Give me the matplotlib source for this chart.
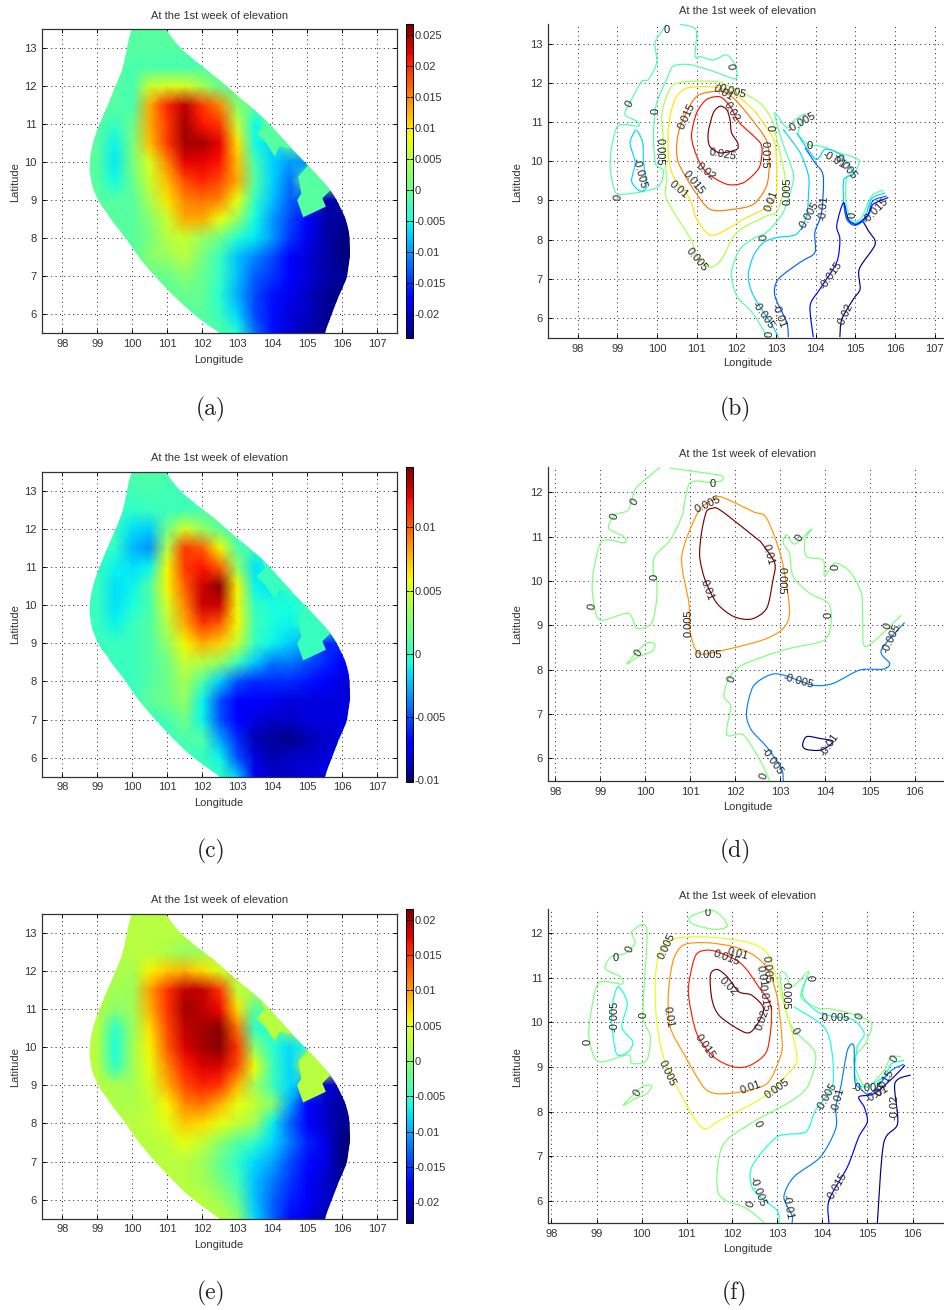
import numpy as np
import matplotlib
matplotlib.use("Agg")
import matplotlib.pyplot as plt
from matplotlib.patches import Polygon, PathPatch
from matplotlib.path import Path
from matplotlib.colors import Normalize

plt.rcParams['font.family'] = ['Liberation Sans', 'DejaVu Sans']
W, H = 945, 1310
TITLE = "At the 1st week of elevation"

LONS = [98.5, 99, 99.5, 100, 100.5, 101, 101.5, 102, 102.5, 103, 103.5, 104, 104.5, 105, 105.5, 106, 106.5]
LATS = [13.5, 13, 12.5, 12, 11.5, 11, 10.5, 10, 9.5, 9, 8.5, 8, 7.5, 7, 6.5, 6, 5.5]

# domain outline (lon, lat)
DOMAIN_EAST = [(100.95, 13.5), (101.26, 13.13), (101.64, 12.78), (102.31, 12.3), (102.98, 11.77), (103.64, 11.25), (104.59, 10.33),
               (105.64, 9.27), (106.02, 8.66), (106.19, 8.13), (106.21, 7.52), (106.12, 6.99), (105.83, 6.29), (105.5, 5.5)]
DOMAIN_WEST = [(102.5, 5.5), (101.55, 6.16), (100.41, 7.25), (99.84, 7.96), (99.27, 8.66), (98.93, 9.18), (98.79, 9.71), (98.81, 10.24),
               (98.98, 10.81), (99.27, 11.46), (99.55, 12.08), (99.74, 12.52), (99.88, 13.13), (99.98, 13.5)]
ZONE_SOUTH = [(105.07, 9.97), (104.74, 9.62), (104.83, 9.18), (104.71, 9.0), (104.88, 8.55), (105.53, 8.83),
              (105.43, 9.05), (105.7, 9.3), (105.3, 9.9)]
ZONE_NORTH = [(103.64, 11.3), (103.79, 10.98), (103.55, 10.76), (103.83, 10.5), (104.07, 10.15), (104.21, 10.41),
              (104.7, 10.32), (104.4, 10.8)]

# values in units of 0.001, rows from north to south
FIELD_A = [
 [-1]*17,
 [-1]*17,
 [-1, -1, -1, -2, -1.5, -2, -2, -1.5, -1, -1, -1, -1, -1, -1, -1, -1, -1],
 [-1, -1, -1, -2, 6, 7, 7, 4, 0, -1, -1, -1, -1, -1, -1, -1, -1],
 [-1, -1, -1, -2, 13, 20, 24, 19, 15, 2, -1, -1, -1, -1, -1, -1, -1],
 [-1, -1, -3, 0, 13, 19, 25, 21, 19, 6, -5, -1, -1, -1, -1, -1, -1],
 [-1, -1, -5.5, 1, 12, 19, 25, 25, 22, 10, -5, -7, -1, -1, -1, -1, -1],
 [-1, -1, -6, 1, 7, 15, 22, 22, 21, 12, -2, -7, -10, -10, -1, -1, -1],
 [-1, -1, -5, 0, 6, 12, 18, 20, 18, 13, -1, -7, -12, -1, -1, -1, -1],
 [-1, -1, -1, -1, 4, 10, 15, 16, 15, 8, -3, -8, -13, -14, -22, -22, -22],
 [-1, -1, -1, -1, 2, 6, 13, 13, 8, 3, -5, -10, -14, -18, -22, -23, -23],
 [-1, -1, -1, -1, 1, 5, 6, 3, .5, -4, -6, -10, -15, -19, -22, -24, -24],
 [-1, -1, -1, -1, 2, 3, 5, 1, -3, -8, -11, -14, -18, -20, -22, -24, -24],
 [-1, -1, -1, -1, 0, 0, 2, 0, -3, -8, -13, -15, -18, -20, -22, -23, -24],
 [-1, -1, -1, -1, -1, 0, 0, 0, -4, -9, -14, -17, -19, -21, -23, -24, -24],
 [-1, -1, -1, -1, -1, -1, -1, -1, -3, -7, -14, -17, -20, -21, -23, -24, -24],
 [-1, -1, -1, -1, -1, -1, -1, -1, -1, -4, -12, -17, -20, -22, -23, -24, -24],
]
FIELD_C = [
 [.3, .3, .3, 1, 1, 1, .3, .3, .3, .3, .3, .3, .3, .3, .3, .3, .3],
 [.3, .3, .3, .5, .8, .5, .3, .3, .3, .3, .3, .3, .3, .3, .3, .3, .3],
 [.3, .3, .3, 0, .3, .4, .5, .8, .8, .3, .3, .3, .3, .3, .3, .3, .3],
 [.3, .3, .3, -1.5, -2, 2, 5, 3, 1.5, .3, .3, .3, .3, .3, .3, .3, .3],
 [.3, .3, 0, -2.5, -3.5, 4, 11, 10, 6, 1, .3, .3, .3, .3, .3, .3, .3],
 [.3, .3, -1, -1.5, -1, 6, 11, 12, 10, 3, -1.5, -.5, .3, .3, .3, .3, .3],
 [.3, .3, -1.5, -1, 1, 6, 10, 13, 14.5, 6, -1, -1.5, .1, .3, .3, .3, .3],
 [.3, .3, -1.5, -.5, .8, 5, 9, 13, 13, 6, 0, -.5, -.6, .3, .3, .3, .3],
 [.3, .3, -1, .2, 1, 4, 8, 11, 10, 6, .5, -.6, -1, .3, .3, .3, .3],
 [.3, .3, .3, .3, 1, 3, 6, 8, 7, 4.5, .2, -1, -2, -3, -6, -6, -6],
 [.3, .3, .3, .3, 1, 2, 4.5, 4, 3, .5, -2, -4, -4, -5, -6, -7, -7],
 [.3, .3, .3, .3, 1, 2, 3.5, 1, -2, -5, -6, -6, -6, -6.5, -7, -8, -8],
 [.3, .3, .3, .3, 1.5, 2, 3, -1, -5, -7, -7, -7.5, -8, -8, -8, -8, -8],
 [.3, .3, .3, .3, .3, .7, 2, -1, -5, -7, -8, -8.5, -8.5, -8, -8, -8, -8],
 [.3, .3, .3, .3, .3, .3, 1, 1, -3, -6, -9, -9.5, -10, -9, -8.5, -8, -8],
 [.3, .3, .3, .3, .3, .3, .3, .3, -1, -5, -8, -9, -8.5, -8.5, -8, -8, -8],
 [.3, .3, .3, .3, .3, .3, .3, .3, .3, -2, -7.5, -8.5, -8.5, -8, -8, -8, -8],
]
FIELD_E = [
 [2.5]*17,
 [2.5]*17,
 [2.5, 2.5, 2.5, 2.5, 2.5, 2, .5, 1, 2, 2.5, 2.5, 2.5, 2.5, 2.5, 2.5, 2.5, 2.5],
 [2.5, 2.5, 2, 1.5, 6, 8, 9, 7, 4, 2, 2.5, 2.5, 2.5, 2.5, 2.5, 2.5, 2.5],
 [2.5, 2.5, 1.5, 1, 10, 15, 19, 19, 15, 3, 2, 2.5, 2.5, 2.5, 2.5, 2.5, 2.5],
 [2.5, 2.5, 0, 1, 9, 15, 20, 19, 17, 7, -3, -1, 2.5, 2.5, 2.5, 2.5, 2.5],
 [2.5, 2.5, -5, .5, 7, 14, 19, 20, 21, 12, -5, -5, 1, 2.5, 2.5, 2.5, 2.5],
 [2.5, 2.5, -6, 1, 6, 13, 18, 20, 21, 15, 0, -5, -8, -5, 2.5, 2.5, 2.5],
 [2.5, 2.5, -5, 1, 5, 11, 16, 18, 18, 14, 5, -4, -8, 2, 2.5, 2.5, 2.5],
 [2.5, 2.5, 2, 1.5, 4, 9, 14, 16, 15, 9, 1, -4, -8, -10, -20, -20, -20],
 [2.5, 2.5, 2, 2, 3, 6, 11, 12, 9, 5, 3, 0, -10, -18, -20, -22, -22],
 [2.5, 2.5, 2.5, 2.5, 3, 4.5, 8, 7, 5, 3, 1, -7, -13, -18, -20, -22, -22],
 [2.5, 2.5, 2.5, 2.5, 2.5, 3, 5, 3, 0, -3, -5, -8, -12, -16, -19, -23, -23],
 [2.5, 2.5, 2.5, 2.5, 2.5, 2.5, 2.5, 1, -2, -5, -8, -10, -14, -17, -19, -23, -23],
 [2.5, 2.5, 2.5, 2.5, 2.5, 2.5, 2.5, 1.5, -1, -4, -9, -12, -15, -18, -20, -22, -22],
 [2.5, 2.5, 2.5, 2.5, 2.5, 2.5, 2.5, 2.5, 1, -2, -9, -13, -16, -18, -20, -21, -21],
 [2.5, 2.5, 2.5, 2.5, 2.5, 2.5, 2.5, 2.5, 2.5, .5, -8, -13, -17, -19, -21, -21, -21],
]
CBAR_RANGE_A = (-24.0, 26.7)
CBAR_RANGE_C = (-10.1, 14.74)
CBAR_RANGE_E = (-23.0, 21.5)
CBAR_TICKS_A = [-.02, -.015, -.01, -.005, 0, .005, .01, .015, .02, .025]
CBAR_TICKS_C = [-.01, -.005, 0, .005, .01]
CBAR_TICKS_E = [-.02, -.015, -.01, -.005, 0, .005, .01, .015, .02]
ZONE_VALUE_A, ZONE_VALUE_C, ZONE_VALUE_E = -1, .3, 2.5

# ---- contour lines, panel (b)
B_Z1 = [(100.24, 13.49), (100.06, 13.22), (99.95, 13.01), (99.99, 12.5), (99.78, 12.08), (99.61, 12.03), (99.36, 11.57),
        (99.19, 11.19), (99.49, 11.02), (99.53, 10.89), (99.03, 10.91), (98.86, 10.38), (98.82, 9.87), (98.9, 9.36),
        (99.07, 9.15), (99.99, 9.32), (100.16, 9.75), (99.97, 9.92), (99.92, 10.38), (99.92, 10.89), (99.99, 11.48),
        (100.24, 12.08), (100.41, 12.42), (100.83, 12.46), (101.42, 12.29), (101.98, 12.1), (101.98, 12.42),
        (101.76, 12.71), (101.42, 12.58), (101.08, 12.67), (100.96, 12.67), (100.98, 13.35), (100.58, 13.49)]
B_Z2 = [(102.78, 5.51), (102.43, 6.1), (102.01, 6.57), (101.88, 7.16), (102.09, 7.75), (102.47, 8.05), (102.76, 8.18),
        (103.18, 8.69), (103.44, 9.53), (103.35, 9.96), (103.14, 10.55), (102.97, 11.23), (103.27, 10.85), (103.44, 11.02),
        (103.73, 11.19), (103.56, 10.72), (103.82, 10.42), (104.15, 10.38), (104.53, 10.23), (105.08, 10.03), (104.95, 9.66),
        (104.78, 9.58), (104.76, 9.03), (104.82, 8.69), (104.95, 8.47), (105.16, 8.56), (105.41, 9.11), (105.71, 9.26)]
B_P005 = [(101.5, 12.03), (100.5, 11.99), (100.24, 11.65), (100.12, 11.14), (100.16, 10.55), (100.2, 10.04), (100.24, 9.53),
          (100.24, 9.03), (100.75, 8.18), (100.87, 7.97), (101.04, 7.54), (101.34, 7.29), (101.63, 7.5), (102.01, 8.18),
          (102.76, 8.6), (103.02, 8.69), (103.23, 9.36), (103.18, 9.87), (103.02, 10.55), (102.93, 10.97), (102.68, 11.4),
          (102.34, 11.65), (101.98, 11.82), (101.5, 12.03)]
B_P010 = [(101.42, 11.89), (100.75, 11.86), (100.45, 11.57), (100.29, 10.89), (100.29, 10.13), (100.41, 9.62), (100.83, 9.03),
          (101.0, 8.52), (101.34, 8.11), (101.76, 8.26), (102.18, 8.52), (102.76, 8.81), (103.0, 9.11), (103.02, 9.79),
          (102.97, 10.47), (102.76, 10.85), (102.43, 11.31), (101.92, 11.74), (101.42, 11.89)]
B_P015 = [(101.59, 11.78), (101.0, 11.65), (100.62, 10.97), (100.5, 10.47), (100.54, 9.96), (100.92, 9.28), (101.34, 8.77),
          (101.92, 8.77), (102.43, 8.9), (102.76, 9.36), (102.83, 9.96), (102.75, 10.55), (102.26, 11.23), (101.92, 11.61),
          (101.59, 11.78)]
B_P020 = [(101.59, 11.64), (101.25, 11.57), (101.0, 11.23), (100.87, 10.64), (101.0, 10.13), (101.25, 9.71), (101.76, 9.41),
          (102.18, 9.45), (102.55, 9.79), (102.64, 10.13), (102.6, 10.47), (102.09, 10.97), (101.84, 11.4), (101.59, 11.64)]
B_P025 = [(101.59, 11.4), (101.42, 11.23), (101.29, 10.72), (101.33, 10.38), (101.59, 10.21), (102.01, 10.3), (102.03, 10.47),
          (101.88, 10.72), (101.84, 11.06), (101.76, 11.31), (101.59, 11.4)]
B_M005_W = [(99.47, 10.81), (99.32, 10.47), (99.45, 9.96), (99.36, 9.49), (99.57, 9.24), (99.74, 9.36), (99.66, 9.96),
            (99.64, 10.47), (99.5, 10.79)]
B_M005_1 = [(103.06, 5.51), (102.93, 5.76), (102.43, 6.57), (102.3, 7.08), (102.43, 7.58), (102.68, 7.92), (103.02, 8.05),
            (103.52, 8.14), (103.77, 8.6), (103.82, 9.19), (103.82, 9.62), (103.61, 10.21), (103.18, 10.81)]
B_M005_2 = [(103.52, 10.72), (103.77, 10.34), (104.03, 10.04), (104.24, 10.3), (104.61, 10.17), (104.95, 9.7), (104.71, 9.53),
            (104.71, 8.94), (104.78, 8.56), (104.99, 8.42), (105.24, 8.56), (105.41, 9.04), (105.75, 9.19)]
B_M010_1 = [(103.31, 5.51), (103.27, 5.89), (102.97, 6.57), (103.06, 6.99), (103.61, 7.42), (103.98, 7.67), (103.98, 8.18),
            (104.15, 8.69), (104.19, 9.62), (103.98, 9.96), (103.73, 10.34)]
B_M010_2 = [(104.71, 8.94), (104.78, 8.52), (104.99, 8.36), (105.29, 8.56), (105.44, 8.98), (105.79, 9.11)]
B_M015 = [(103.94, 5.51), (103.86, 6.31), (104.11, 6.74), (104.53, 7.42), (104.61, 8.01), (104.53, 8.35), (104.7, 8.94),
          (104.82, 8.52), (105.03, 8.39), (105.33, 8.64), (105.45, 8.9), (105.83, 9.07)]
B_M020 = [(104.61, 5.51), (104.66, 5.97), (104.95, 6.48), (105.12, 6.74), (105.1, 7.25), (105.5, 7.88), (105.33, 8.22), (105.2, 8.45)]
B_LINES = [(0, B_Z1), (0, B_Z2), (.005, B_P005), (.01, B_P010), (.015, B_P015), (.02, B_P020), (.025, B_P025),
           (-.005, B_M005_W), (-.005, B_M005_1), (-.005, B_M005_2), (-.01, B_M010_1), (-.01, B_M010_2),
           (-.015, B_M015), (-.02, B_M020)]
B_LABELS = [("0", 100.24, 13.35, 0), ("0", 101.84, 12.42, -80), ("0", 99.3, 11.47, 60), ("0", 99.97, 11.27, 90), ("0", 99.03, 9.07, 80),
            ("0", 102.95, 10.85, 90), ("0", 103.86, 10.38, 0), ("0", 104.93, 8.62, 90), ("0", 102.61, 8.05, -80), ("0", 102.85, 5.59, 90),
            ("0.005", 101.9, 11.78, -15), ("0.005", 100.06, 10.25, -90), ("0.005", 103.29, 9.24, 90), ("0.005", 101.0, 7.48, -50),
            ("-0.005", 103.65, 10.97, 30), ("-0.005", 104.74, 9.87, -50), ("-0.005", 99.57, 9.7, -75), ("-0.005", 103.82, 8.6, 60),
            ("-0.005", 102.68, 6.06, -55), ("0.01", 100.54, 9.28, -40), ("0.01", 102.89, 8.98, 70), ("0.01", 101.67, 11.74, -30),
            ("-0.01", 104.19, 8.81, 85), ("-0.01", 103.06, 6.06, -70), ("-0.01", 104.45, 10.04, -30), ("0.015", 100.75, 11.14, 65),
            ("0.015", 102.72, 10.17, -90), ("0.015", 100.92, 9.45, -50), ("-0.015", 104.39, 7.08, 55), ("-0.015", 105.5, 8.73, 45),
            ("0.02", 101.88, 11.27, -60), ("0.02", 101.24, 9.72, -40), ("-0.02", 104.74, 6.06, 65), ("0.025", 101.67, 10.17, -10)]

# ---- contour lines, panel (d)
D_Z1 = [(100.33, 12.56), (99.99, 12.28), (99.77, 12.05), (99.62, 11.6), (99.33, 11.49), (99.18, 11.19), (99.51, 11.0), (99.53, 10.86),
        (99.03, 10.89), (98.84, 10.17), (98.83, 9.65), (98.99, 9.12), (99.62, 9.27), (99.81, 8.93), (100.14, 9.05), (100.25, 9.57),
        (100.25, 10.02), (100.18, 10.17), (100.21, 10.55), (100.55, 10.92), (100.81, 11.45), (100.99, 12.2), (101.44, 12.22),
        (101.7, 12.26), (101.7, 12.37), (101.21, 12.45), (100.55, 12.54)]
D_Z2 = [(99.59, 8.13), (99.99, 8.58), (100.21, 8.58), (100.14, 8.41), (99.84, 8.29), (99.59, 8.13)]
D_Z3 = [(102.77, 5.49), (102.55, 5.96), (102.18, 6.53), (101.81, 6.53), (101.9, 7.17), (101.75, 7.39), (101.84, 7.77), (102.1, 8.07),
        (102.62, 8.29), (103.21, 8.48), (103.99, 8.67), (104.14, 9.12), (104.07, 9.5), (103.66, 9.72), (103.29, 10.1), (103.21, 10.62),
        (103.07, 10.85), (103.14, 11.04), (103.33, 10.83), (103.7, 11.17), (103.55, 10.92), (103.59, 10.55), (103.96, 10.47),
        (103.99, 10.1), (104.21, 10.4), (104.55, 10.21), (104.81, 9.72), (104.84, 9.05), (104.92, 8.52), (105.7, 9.23)]
D_P005 = [(101.7, 11.89), (102.4, 11.56), (102.7, 11.41), (103.03, 10.51), (103.21, 9.35), (103.07, 8.93), (102.62, 8.67), (101.7, 8.43),
          (101.18, 8.37), (100.99, 8.89), (100.97, 9.5), (100.81, 10.55), (101.18, 11.56), (101.51, 11.83), (101.7, 11.89)]
D_P010 = [(101.51, 11.64), (101.36, 11.56), (101.25, 11.08), (101.21, 10.55), (101.33, 10.02), (101.59, 9.5), (101.96, 9.2), (102.36, 9.14),
          (102.7, 9.38), (102.84, 10.02), (102.88, 10.4), (102.59, 10.85), (102.47, 10.96), (101.81, 11.49), (101.59, 11.64), (101.51, 11.64)]
D_M005 = [(103.07, 5.49), (103.03, 5.77), (102.7, 6.26), (102.36, 6.64), (102.25, 7.02), (102.4, 7.62), (102.77, 7.88), (103.07, 7.88),
          (103.73, 7.65), (104.18, 7.69), (104.77, 7.99), (105.29, 8.01), (105.44, 8.14), (105.25, 8.44), (105.77, 9.06)]
D_M010 = [(103.59, 6.49), (103.5, 6.3), (103.59, 6.2), (103.92, 6.19), (104.18, 6.38), (103.88, 6.45), (103.59, 6.49)]
D_LINES = [(0, D_Z1), (0, D_Z2), (0, D_Z3), (.005, D_P005), (.01, D_P010), (-.005, D_M005), (-.01, D_M010)]
D_LABELS = [("0", 101.51, 12.19, 0), ("0", 99.76, 11.79, 60), ("0", 99.31, 11.45, 75), ("0", 98.81, 9.42, 80), ("0", 99.84, 8.38, 60),
            ("0", 100.21, 10.08, 90), ("0", 103.44, 10.96, 60), ("0", 104.23, 10.31, 90), ("0", 104.09, 9.23, 90), ("0", 101.93, 7.79, 70),
            ("0", 102.64, 5.59, 70), ("0", 105.4, 8.98, 70), ("0.005", 101.4, 11.73, 25), ("0.005", 103.03, 10.0, -90),
            ("0.005", 100.96, 9.05, 90), ("0.005", 101.4, 8.33, 0), ("-0.005", 105.47, 8.71, 65), ("-0.005", 103.4, 7.73, -15),
            ("-0.005", 102.81, 5.93, -55), ("0.01", 102.73, 10.6, -75), ("0.01", 101.38, 9.8, -70), ("-0.01", 104.1, 6.3, 55)]

# ---- contour lines, panel (f)
F_Z1 = [(99.04, 10.88), (98.85, 10.05), (98.84, 9.6), (99.04, 9.12), (99.7, 9.27), (99.78, 9.08), (100.11, 9.15), (100.19, 9.68),
        (100.04, 10.05), (100.04, 10.58), (100.11, 12.11), (99.78, 12.04), (99.85, 11.78), (99.63, 11.55), (99.33, 11.48), (99.19, 11.21),
        (99.52, 11.03), (99.56, 10.86), (99.04, 10.88)]
F_Z2 = [(101.07, 12.37), (101.11, 12.22), (101.59, 12.09), (101.89, 12.15), (101.81, 12.34), (101.59, 12.51), (101.37, 12.49), (101.07, 12.37)]
F_Z3 = [(99.59, 8.14), (100.0, 8.55), (100.22, 8.58), (100.11, 8.4), (99.85, 8.29), (99.59, 8.14)]
F_Z4 = [(102.74, 5.48), (102.33, 5.82), (101.7, 6.16), (101.78, 7.21), (102.41, 7.73), (103.22, 8.18), (103.67, 8.55), (103.85, 9.3),
        (103.37, 9.83), (103.19, 10.28), (103.06, 11.06), (103.19, 11.1), (103.33, 10.8), (103.7, 11.14), (103.52, 10.58), (103.93, 10.31),
        (104.15, 10.31), (104.63, 10.2), (105.09, 9.98), (104.96, 9.53), (104.7, 9.15), (104.96, 8.55), (105.37, 8.93), (105.52, 9.23), (105.74, 9.23)]
F_P005 = [(100.78, 11.89), (100.41, 11.59), (100.3, 10.95), (100.33, 10.05), (100.48, 9.23), (100.78, 8.55), (101.33, 7.64), (101.74, 7.81),
          (102.7, 8.33), (103.37, 9.0), (103.43, 9.3), (103.3, 9.9), (103.06, 10.73), (102.81, 11.51), (102.41, 11.78), (101.59, 11.91), (100.78, 11.89)]
F_P010 = [(101.44, 11.79), (100.93, 11.74), (100.7, 11.4), (100.59, 10.65), (100.63, 9.9), (100.93, 9.3), (101.37, 8.55), (101.67, 8.4),
          (102.19, 8.44), (102.78, 8.63), (103.07, 9.23), (103.11, 9.6), (103.0, 10.58), (102.78, 11.21), (102.48, 11.51), (102.04, 11.7), (101.44, 11.79)]
F_P015 = [(101.59, 11.61), (101.22, 11.54), (101.07, 11.03), (101.04, 10.58), (101.22, 9.75), (101.59, 9.23), (102.04, 9.0), (102.41, 9.04),
          (102.78, 9.38), (102.87, 10.31), (102.59, 10.8), (102.19, 11.33), (101.59, 11.61)]
F_P020 = [(101.67, 11.19), (101.52, 11.06), (101.56, 10.5), (101.74, 10.13), (102.3, 9.77), (102.52, 9.9), (102.7, 10.31), (102.44, 10.61),
          (102.15, 10.69), (101.89, 11.03), (101.67, 11.19)]
F_M005_W = [(99.48, 10.8), (99.36, 10.46), (99.33, 10.05), (99.44, 9.3), (99.7, 9.34), (99.8, 9.57), (99.56, 9.9), (99.68, 10.43), (99.48, 10.8)]
F_M005_1 = [(103.04, 5.48), (103.0, 5.78), (102.48, 6.23), (102.44, 6.76), (103.0, 7.43), (103.63, 7.54), (103.85, 8.03), (104.22, 8.55),
            (104.22, 9.3), (104.04, 9.9), (103.37, 10.35)]
F_M005_2 = [(103.67, 11.03), (103.56, 10.61), (103.89, 10.24), (104.26, 10.13), (104.7, 10.05), (104.93, 9.75), (104.78, 9.45), (104.72, 8.85),
            (104.89, 8.55), (105.37, 8.78), (105.52, 9.06), (105.81, 9.15)]
F_M010 = [(103.33, 5.48), (103.33, 5.67), (103.15, 6.08), (103.37, 6.53), (103.96, 6.98), (104.3, 7.62), (104.3, 8.1), (104.41, 8.55), (104.56, 9.38),
          (104.7, 9.47), (104.72, 8.7), (104.84, 8.52), (105.07, 8.4), (105.52, 8.91), (105.81, 9.06)]
F_M015 = [(104.15, 5.48), (104.15, 6.01), (104.56, 6.76), (104.81, 7.43), (105.0, 7.77), (104.93, 8.1), (104.81, 8.33), (105.15, 8.4), (105.59, 8.78), (105.83, 9.04)]
F_M020 = [(105.22, 5.48), (105.36, 7.28), (105.67, 7.73), (105.61, 8.63), (105.96, 8.82)]
F_LINES = [(0, F_Z1), (0, F_Z2), (0, F_Z3), (0, F_Z4), (.005, F_P005), (.01, F_P010), (.015, F_P015), (.02, F_P020),
           (-.005, F_M005_W), (-.005, F_M005_1), (-.005, F_M005_2), (-.01, F_M010), (-.015, F_M015), (-.02, F_M020)]
F_LABELS = [("0", 101.46, 12.45, 0), ("0", 99.74, 11.65, 70), ("0", 99.43, 11.44, 0), ("0", 98.8, 9.57, 90), ("0", 99.9, 8.42, 60), ("0", 100.05, 10.16, 90),
            ("0", 103.39, 9.81, -60), ("0", 102.56, 7.73, -70), ("0", 102.41, 5.91, 70), ("0", 103.81, 11.0, 90), ("0", 104.83, 10.14, 70), ("0", 105.61, 9.18, 60),
            ("0.005", 100.56, 11.7, 65), ("0.005", 100.56, 8.85, -65), ("0.005", 103.0, 8.52, 35), ("0.005", 103.19, 10.61, -90), ("0.005", 102.78, 11.18, -85),
            ("-0.005", 99.39, 10.13, 90), ("-0.005", 104.26, 10.09, 0), ("-0.005", 104.1, 8.33, 60), ("-0.005", 102.57, 6.19, -70), ("-0.005", 105.0, 8.52, 0),
            ("0.01", 102.41, 8.55, 20), ("0.01", 100.59, 10.13, -80), ("0.01", 102.13, 11.55, -15), ("0.01", 102.66, 11.03, -80),
            ("-0.01", 104.35, 8.25, 75), ("-0.01", 103.24, 5.86, -80), ("-0.01", 105.22, 8.4, 30), ("0.015", 101.89, 11.44, -20), ("0.015", 101.41, 9.45, -55),
            ("0.015", 102.7, 10.54, -80), ("-0.015", 104.33, 6.31, 60), ("-0.015", 105.37, 8.63, 60), ("0.02", 101.93, 10.8, -45), ("0.02", 102.67, 10.05, 70),
            ("-0.02", 105.61, 8.1, 90)]

XT_ALL = [98, 99, 100, 101, 102, 103, 104, 105, 106, 107]
XT_SHORT = [98, 99, 100, 101, 102, 103, 104, 105, 106]
YT_TALL = [6, 7, 8, 9, 10, 11, 12, 13]
YT_SHORT = [6, 7, 8, 9, 10, 11, 12]

TXT = '#333333'
FS = 8
fig = plt.figure(figsize=(W / 100, H / 100), dpi=100)


def box(l, t, r, b):
    return [l / W, 1 - b / H, (r - l) / W, (b - t) / H]


def ftext(x, y, s, **kw):
    kw.setdefault('fontsize', FS)
    kw.setdefault('color', TXT)
    fig.text(x / W, 1 - y / H, s, ha='center', va='center', **kw)


def bezier_segments(pts, k=1 / 7):
    """Vertices and codes of a smooth curve drawn through the given points."""
    p = np.array(pts, float)
    closed = np.allclose(p[0], p[-1])
    n = len(p)
    verts, codes = [], []
    for i in range(n - 1):
        p1, p2 = p[i], p[i + 1]
        if closed:
            p0 = p[(i - 1) % (n - 1)]
            p3 = p[(i + 2) % (n - 1)]
        else:
            p0 = p[max(i - 1, 0)]
            p3 = p[min(i + 2, n - 1)]
        verts += [p1 + (p2 - p0) * k, p2 - (p3 - p1) * k, p2]
        codes += [Path.CURVE4] * 3
    return verts, codes


def smooth_path(pts):
    v, c = bezier_segments(pts)
    return Path([pts[0]] + v, [Path.MOVETO] + c)


def domain_path():
    ve, ce = bezier_segments(DOMAIN_EAST)
    vw, cw = bezier_segments(DOMAIN_WEST)
    verts = [DOMAIN_EAST[0]] + ve + [DOMAIN_WEST[0]] + vw + [DOMAIN_EAST[0]]
    codes = [Path.MOVETO] + ce + [Path.LINETO] + cw + [Path.CLOSEPOLY]
    return Path(verts, codes)


def style(ax, xlim, ylim, xt, yt, full):
    ax.set_xlim(*xlim)
    ax.set_ylim(*ylim)
    ax.set_xticks(xt)
    ax.set_yticks(yt)
    ax.set_axisbelow(True)
    ax.grid(True, color='#222222', linestyle=(0, (1, 3.5)), linewidth=0.7)
    ax.tick_params(direction='in', length=3, width=0.7, labelsize=FS, labelcolor=TXT, pad=4,
                   top=full, right=full)
    for s in ['top', 'right']:
        ax.spines[s].set_visible(full)
    for s in ax.spines.values():
        s.set_linewidth(0.9)
        s.set_color('#333333')


def heat(axbox, cbbox, field, rng, ticks, zone, title_y, xl_y, lat_y, cap, cap_y):
    ax = fig.add_axes(box(*axbox))
    style(ax, (97.43, 107.57), (5.5, 13.5), XT_ALL, YT_TALL, True)
    norm = Normalize(rng[0] / 1000, rng[1] / 1000)
    lon, lat = np.meshgrid(LONS, LATS)
    m = ax.pcolormesh(lon, lat, np.array(field, float) / 1000, cmap='jet', norm=norm, shading='gouraud', zorder=1)
    clip = PathPatch(domain_path(), transform=ax.transData)
    m.set_clip_path(clip)
    for z in (ZONE_SOUTH, ZONE_NORTH):
        p = Polygon(z, closed=True, facecolor=plt.get_cmap('jet')(norm(zone / 1000)), edgecolor='none', zorder=1.5)
        ax.add_patch(p)
        p.set_clip_path(clip)
    cax = fig.add_axes(box(*cbbox))
    cb = fig.colorbar(m, cax=cax, ticks=ticks)
    cb.ax.set_yticklabels(['%g' % t for t in ticks])
    cb.ax.tick_params(direction='in', length=2, width=0.7, labelsize=FS, labelcolor=TXT, pad=1, left=True, right=True)
    cb.outline.set_linewidth(0.7)
    ftext(219.3, title_y, TITLE)
    ftext(219, xl_y, "Longitude")
    ftext(15, lat_y, "Latitude", rotation=90)
    ftext(211, cap_y, cap, fontsize=17, family='cmr10', color='#222222')


def lines(axbox, xlim, ylim, xt, yt, data, labels, lv, title_y, xl_y, lat_y, cap, cap_y):
    ax = fig.add_axes(box(*axbox))
    style(ax, xlim, ylim, xt, yt, False)
    norm = Normalize(*lv)
    cmap = plt.get_cmap('jet')
    for level, pts in data:
        ax.add_patch(PathPatch(smooth_path(pts), facecolor='none', edgecolor=cmap(norm(level)), lw=0.85, zorder=2))
    for s, x, y, r in labels:
        ax.text(x, y, s, rotation=r, rotation_mode='anchor', ha='center', va='center', fontsize=FS,
                color='#222222', zorder=3, clip_on=True)
    ftext(747.7, title_y, TITLE)
    ftext(748, xl_y, "Longitude")
    ftext(517.3, lat_y, "Latitude", rotation=90)
    ftext(735, cap_y, cap, fontsize=17, family='cmr10', color='#222222')


heat((42.3, 29, 397.3, 333.3), (405.7, 24.3, 413, 338.3), FIELD_A, CBAR_RANGE_A, CBAR_TICKS_A, ZONE_VALUE_A, 15.7, 360, 182, "(a)", 409.3)
heat((42.3, 471.7, 397.3, 776.7), (405.7, 467.3, 413, 781.7), FIELD_C, CBAR_RANGE_C, CBAR_TICKS_C, ZONE_VALUE_C, 458.3, 803, 624, "(c)", 851.7)
heat((42.3, 913.7, 397.3, 1218.7), (405.7, 909.3, 413, 1223.3), FIELD_E, CBAR_RANGE_E, CBAR_TICKS_E, ZONE_VALUE_E, 900.3, 1245, 1066.7, "(e)", 1293)

lines((548.3, 24.3, 945, 338.3), (97.26, 107.26), (5.48, 13.49), XT_ALL, YT_TALL, B_LINES, B_LABELS, (-.02, .025), 11, 363, 181.7, "(b)", 409)
lines((548.3, 467.3, 945, 781), (97.84, 106.67), (5.49, 12.56), XT_SHORT, YT_SHORT, D_LINES, D_LABELS, (-.01, .01), 453.7, 806.7, 624, "(d)", 851.7)
lines((548.3, 909.3, 945, 1223.3), (97.93, 106.72), (5.49, 12.54), XT_SHORT, YT_SHORT, F_LINES, F_LABELS, (-.02, .02), 895.7, 1248.7, 1066.7, "(f)", 1293)

fig.savefig("out.png", dpi=100)
